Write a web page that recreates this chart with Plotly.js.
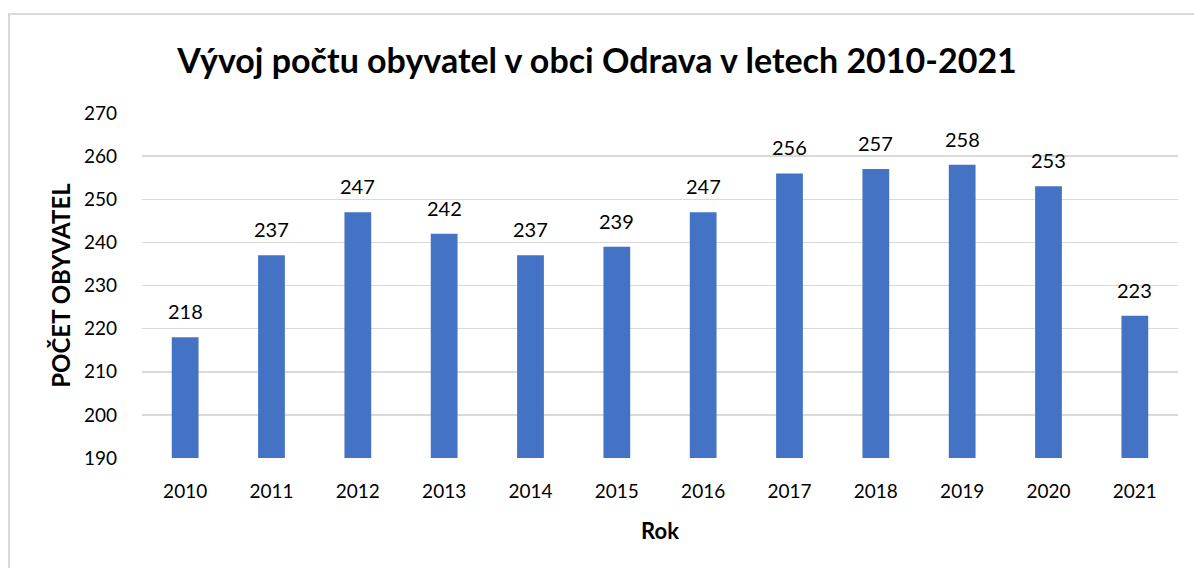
<!DOCTYPE html>
<html><head><meta charset="utf-8">
<script src="https://cdn.plot.ly/plotly-3.0.1.min.js"></script>
<style>
html,body{margin:0;padding:0;background:#fff;overflow:hidden}
#frame{position:absolute;left:8px;top:13px;width:1300px;height:700px;border:2px solid #d9d9d9;box-sizing:border-box}
#chart{position:absolute;left:0;top:0;width:1194px;height:568px}
</style></head>
<body>
<div id="frame"></div>
<div id="chart"></div>
<script>
const years = ['2010','2011','2012','2013','2014','2015','2016','2017','2018','2019','2020','2021'];
const population = [218,237,247,242,237,239,247,256,257,258,253,223];
const F = 'Lato, "Open Sans", sans-serif';
const labels = years.map((yr,i)=>({x:i, y:population[i], xref:'x', yref:'y', text:String(population[i]), showarrow:false,
  yanchor:'bottom', yshift:12, font:{family:F,size:20,color:'#000'}}));
Plotly.newPlot('chart', [{
  type:'bar', x:years, y:population, base:0,
  marker:{color:'#4472c4'}, hoverinfo:'x+y'
}], {
  width:1194, height:568,
  paper_bgcolor:'rgba(0,0,0,0)', plot_bgcolor:'rgba(0,0,0,0)',
  margin:{l:142,r:16,t:113,b:110},
  bargap:0.69,
  annotations:labels,
  title:{text:'<b>Vývoj počtu obyvatel v obci Odrava v letech 2010-2021</b>', x:0.5, xanchor:'center', y:0.893, yanchor:'middle', font:{family:F,size:34,color:'#000'}},
  xaxis:{type:'category', tickfont:{family:F,size:19,color:'#000'}, ticks:'', showline:false, showgrid:false, ticklabelstandoff:20,
    title:{text:'<b>Rok</b>', font:{family:F,size:22,color:'#000'}, standoff:22}},
  yaxis:{range:[190,270], dtick:10, tickfont:{family:F,size:19,color:'#000'}, gridcolor:'#d9d9d9', gridwidth:1.5, zeroline:false, showline:false, ticks:'', ticklabelstandoff:24,
    title:{text:'<b>POČET OBYVATEL</b>', font:{family:F,size:24,color:'#000'}, standoff:6}},
  showlegend:false
}, {displayModeBar:false, staticPlot:true});
</script>
</body></html>
